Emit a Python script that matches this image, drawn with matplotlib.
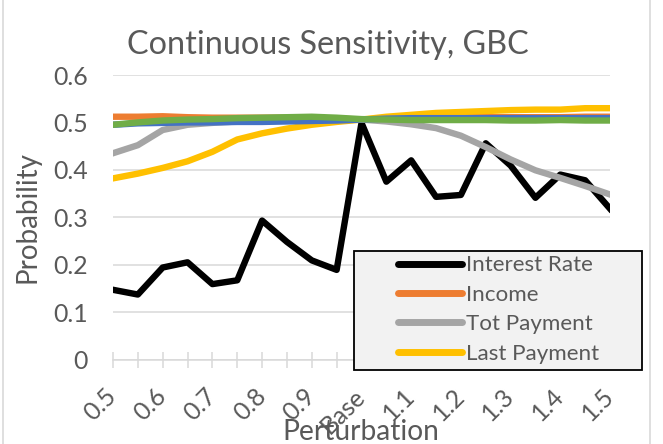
import numpy as np
import matplotlib
matplotlib.use("Agg")
import matplotlib.pyplot as plt
from matplotlib.patches import Rectangle
from matplotlib.textpath import TextPath
from matplotlib.font_manager import FontProperties

plt.rcParams['font.family'] = ['Lato', 'DejaVu Sans']

# 21 perturbation steps, label on every other one
labels = ['0.5', '', '0.6', '', '0.7', '', '0.8', '', '0.9', '', 'Base',
          '', '1.1', '', '1.2', '', '1.3', '', '1.4', '', '1.5']

interest_rate = [0.147, 0.137, 0.194, 0.205, 0.159, 0.167, 0.293, 0.248, 0.209, 0.189, 0.499,
                 0.375, 0.420, 0.343, 0.347, 0.456, 0.409, 0.341, 0.390, 0.378, 0.318]
income = [0.512, 0.512, 0.513, 0.511, 0.510, 0.510, 0.510, 0.510, 0.509, 0.508, 0.506,
          0.509, 0.510, 0.510, 0.511, 0.511, 0.511, 0.511, 0.511, 0.512, 0.512]
tot_payment = [0.435, 0.452, 0.484, 0.495, 0.499, 0.502, 0.503, 0.505, 0.506, 0.507, 0.506,
               0.502, 0.496, 0.488, 0.472, 0.448, 0.422, 0.399, 0.383, 0.366, 0.348]
last_payment = [0.382, 0.392, 0.404, 0.418, 0.438, 0.464, 0.477, 0.487, 0.495, 0.501, 0.506,
                0.512, 0.516, 0.520, 0.522, 0.524, 0.526, 0.527, 0.527, 0.530, 0.530]
series5 = [0.495, 0.498, 0.499, 0.500, 0.500, 0.501, 0.501, 0.502, 0.503, 0.504, 0.506,
           0.508, 0.509, 0.509, 0.509, 0.509, 0.509, 0.509, 0.509, 0.509, 0.509]
series6 = [0.495, 0.500, 0.504, 0.506, 0.507, 0.509, 0.510, 0.511, 0.512, 0.510, 0.507,
           0.506, 0.505, 0.505, 0.505, 0.505, 0.504, 0.504, 0.505, 0.504, 0.504]

text_col = '#595959'
W, H = 663, 444


def size_for(s, px):
    # font size (pt) giving an ink width of px pixels at 100 dpi
    w = TextPath((0, 0), s, size=10, prop=FontProperties(family='Lato')).get_extents().width
    return 10 * px * 0.72 / w


fs_title = size_for('Continuous Sensitivity, GBC', 399)
fs_tick = size_for('0.6', 33)
fs_leg = size_for('Interest Rate', 124)
fs_ylab = size_for('Probability', 129)
fs_xlab = size_for('Perturbation', 152)

fig = plt.figure(figsize=(W / 100, H / 100), dpi=100)
ax = fig.add_axes([113 / W, 1 - 359.5 / H, 497 / W, 284.5 / H])
x = np.arange(len(labels))

lw = 4.6
ax.plot(x, interest_rate, color='black', lw=lw, label='Interest Rate', zorder=2)
ax.plot(x, income, color='#ED7D31', lw=lw, label='Income', zorder=3)
ax.plot(x, tot_payment, color='#A5A5A5', lw=lw, label='Tot Payment', zorder=4)
ax.plot(x, last_payment, color='#FFC000', lw=lw, label='Last Payment', zorder=5)
ax.plot(x, series5, color='#4472C4', lw=lw, label='_nolegend_', zorder=6)
ax.plot(x, series6, color='#70AD47', lw=lw, label='_nolegend_', zorder=7)

ax.set_xlim(0, 20)
ax.set_ylim(0, 0.6)
ax.set_yticks(np.arange(0, 0.61, 0.1))
ax.set_yticklabels(['0', '0.1', '0.2', '0.3', '0.4', '0.5', '0.6'])
ax.grid(axis='y', color='#D9D9D9', lw=1.1)
ax.set_axisbelow(True)
for s in ['top', 'right', 'left']:
    ax.spines[s].set_visible(False)
ax.spines['bottom'].set_color('#D9D9D9')
ax.spines['bottom'].set_linewidth(1.1)
ax.tick_params(axis='y', length=0, labelsize=fs_tick, labelcolor=text_col, pad=18)
ax.set_xticks(x)
ax.set_xticklabels(labels, rotation=45, ha='right', va='center', rotation_mode='anchor')
ax.tick_params(axis='x', direction='inout', length=11.5, color='#D9D9D9', width=1.1,
               labelsize=fs_tick, labelcolor=text_col, pad=18)

fig.text(327.5 / W, 1 - 54 / H, 'Continuous Sensitivity, GBC', fontsize=fs_title,
         color=text_col, ha='center', va='baseline')
fig.text(361 / W, 1 - 440 / H, 'Perturbation', fontsize=fs_xlab, color=text_col,
         ha='center', va='baseline')
fig.text(27.5 / W, 1 - 217 / H, 'Probability', fontsize=fs_ylab, color=text_col,
         ha='center', va='center', rotation=90)

# chart area border and legend box
fig.patches.append(Rectangle((3 / W, -0.05), 647 / W, 1.1, transform=fig.transFigure,
                             fill=False, edgecolor='#D9D9D9', lw=1.2))
ax.add_patch(Rectangle((354 / W, 1 - 370 / H), 288 / W, 119 / H,
                       transform=fig.transFigure, facecolor='#F2F2F2',
                       edgecolor='black', lw=1.3, zorder=15, clip_on=False))

em = fs_leg * 100 / 72
leg = ax.legend(loc='center left', bbox_to_anchor=(398 / W, 1 - 309.5 / H),
                bbox_transform=fig.transFigure, fontsize=fs_leg, frameon=False,
                handlelength=64 / em, handletextpad=4 / em, labelspacing=0.42,
                borderpad=0, borderaxespad=0)
leg.set_zorder(20)
for t in leg.get_texts():
    t.set_color(text_col)
for h in leg.get_lines():
    h.set_linewidth(5)
    h.set_solid_capstyle('round')

fig.savefig('out.png', dpi=100)
